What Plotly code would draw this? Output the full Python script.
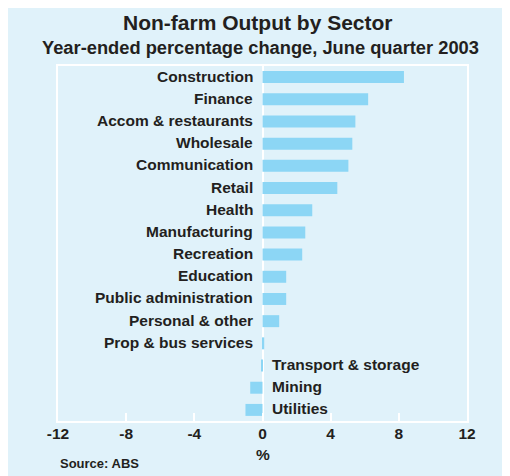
import plotly.graph_objects as go

categories = ["Construction", "Finance", "Accom & restaurants", "Wholesale",
              "Communication", "Retail", "Health", "Manufacturing", "Recreation",
              "Education", "Public administration", "Personal & other",
              "Prop & bus services", "Transport & storage", "Mining", "Utilities"]
values = [8.3, 6.2, 5.45, 5.27, 5.04, 4.39, 2.92, 2.51, 2.33, 1.39, 1.39, 0.98,
          0.1, -0.08, -0.72, -1.0]
tick_vals = [-12, -8, -4, 0, 4, 8, 12]
tick_text = ["-12", "-8", "-4", "0", "4", "8", "12"]

BG = "#e0f2fa"
BAR = "#8cd6f5"
TXT = "#231f20"
FONT = "Liberation Sans, Arial, sans-serif"
LBL = 15.5

fig = go.Figure()
fig.add_trace(go.Bar(
    x=values, y=categories, orientation="h",
    marker=dict(color=BAR, line=dict(width=0)),
    hoverinfo="x+y",
))

annotations = []
for c, v in zip(categories, values):
    pos = v >= 0
    annotations.append(dict(
        x=0, y=c, xref="x", yref="y", text=c, showarrow=False,
        xanchor="right" if pos else "left",
        xshift=-8 if pos else 7, yshift=1,
        font=dict(family=FONT, size=LBL, color=TXT, weight="bold"),
    ))

annotations.append(dict(
    x=0, y=-0.121, xref="paper", yref="paper", text="Source: ABS",
    showarrow=False, xanchor="left", yanchor="middle",
    font=dict(family=FONT, size=13, color=TXT, weight="bold"),
))
annotations.append(dict(
    x=0.5, y=-0.093, xref="paper", yref="paper", text="%",
    showarrow=False, xanchor="center", yanchor="middle",
    font=dict(family=FONT, size=LBL, color=TXT, weight="bold"),
))
annotations.append(dict(
    x=0.489, y=1.122, xref="paper", yref="paper", text="Non-farm Output by Sector",
    showarrow=False, xanchor="center", yanchor="middle",
    font=dict(family=FONT, size=21, color=TXT, weight="bold"),
))
annotations.append(dict(
    x=0.496, y=1.053, xref="paper", yref="paper",
    text="Year-ended percentage change, June quarter 2003",
    showarrow=False, xanchor="center", yanchor="middle",
    font=dict(family=FONT, size=18.3, color=TXT, weight="bold"),
))

fig.update_layout(
    width=502, height=468,
    margin=dict(l=50, r=43, t=58, b=55),
    paper_bgcolor=BG,
    plot_bgcolor=BG,
    bargap=0.46,
    showlegend=False,
    annotations=annotations,
    xaxis=dict(
        range=[-12, 12], tickvals=tick_vals, ticktext=tick_text,
        showgrid=False, zeroline=True, zerolinecolor="white", zerolinewidth=2,
        showline=True, linecolor="white", linewidth=2, mirror=True,
        ticks="inside", ticklen=8, tickcolor="white", tickwidth=1.5,
        ticklabelstandoff=-3,
        tickfont=dict(family=FONT, size=LBL, color=TXT, weight="bold"),
        fixedrange=True,
    ),
    yaxis=dict(
        categoryorder="array", categoryarray=categories,
        range=[15.5, -0.5], showticklabels=False, showgrid=False,
        showline=True, linecolor="white", linewidth=2, mirror=True,
        ticks="", zeroline=False, fixedrange=True,
    ),
)

fig.write_html("out.html")
